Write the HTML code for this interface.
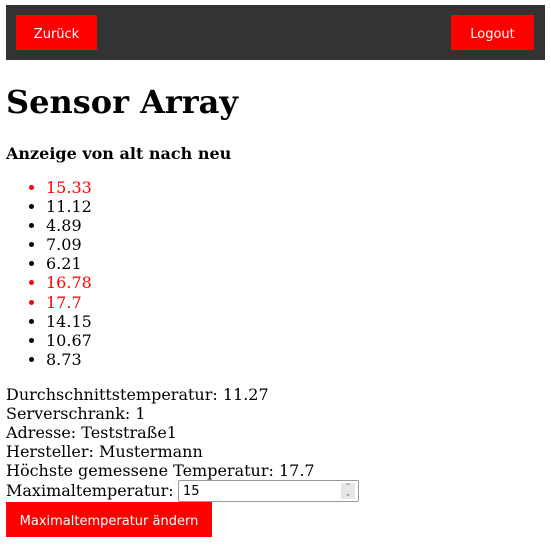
<!DOCTYPE html>
<html><head><meta charset="utf-8"><style>
body{margin:0;width:551px;height:548px;background:#fff;font-family:"DejaVu Serif",serif;font-size:16px;color:#000;position:relative;overflow:hidden}
.bar{position:absolute;left:6px;top:5px;width:539px;height:55px;background:#333}
.btn{position:absolute;background:#f00;color:#fff;font-family:"DejaVu Sans","Liberation Sans",sans-serif;font-size:13px;display:flex;align-items:center;justify-content:center;padding-top:3px;box-sizing:border-box}
.a{position:absolute;left:6px;white-space:nowrap;line-height:19px}
h1{position:absolute;left:6px;top:82px;margin:0;font-size:32px;line-height:40px;font-weight:bold}
h3{position:absolute;left:6px;top:144px;margin:0;font-size:16px;line-height:20px;font-weight:bold}
ul{position:absolute;left:0;top:178px;margin:0;padding-left:46px;line-height:19.1px}
.r{color:#f00}
.inp{position:absolute;left:178px;top:480px;width:181px;height:22px;border:1px solid #999;border-radius:2px;font-family:"DejaVu Sans",sans-serif;font-size:13px;line-height:21px;padding-left:4px;box-sizing:border-box}
.sp{position:absolute;right:3px;top:2px;width:14px;height:16px;background:#e6e6e6;font-size:8px;line-height:7px;color:#777;text-align:center}
</style></head><body>
<div class="bar"></div>
<div class="btn" style="left:16px;top:15px;width:81px;height:35px">Zurück</div>
<div class="btn" style="left:451px;top:15px;width:83px;height:35px">Logout</div>
<h1>Sensor Array</h1>
<h3>Anzeige von alt nach neu</h3>
<ul>
<li class="r">15.33</li><li>11.12</li><li>4.89</li><li>7.09</li><li>6.21</li><li class="r">16.78</li><li class="r">17.7</li><li>14.15</li><li>10.67</li><li>8.73</li>
</ul>
<div class="a" style="top:385px">Durchschnittstemperatur: 11.27</div>
<div class="a" style="top:404px">Serverschrank: 1</div>
<div class="a" style="top:423px">Adresse: Teststraße1</div>
<div class="a" style="top:442px">Hersteller: Mustermann</div>
<div class="a" style="top:461px">Höchste gemessene Temperatur: 17.7</div>
<div class="a" style="top:481px">Maximaltemperatur:</div>
<div class="inp">15<div class="sp">⌃<br>⌄</div></div>
<div class="btn" style="left:6px;top:502px;width:206px;height:35px">Maximaltemperatur ändern</div>
</body></html>
